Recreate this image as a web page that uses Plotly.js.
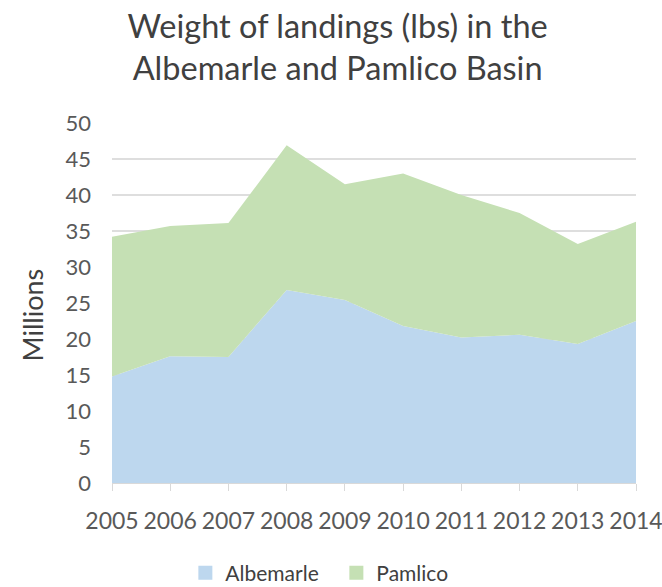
<!DOCTYPE html>
<html>
<head>
<meta charset="utf-8">
<script src="https://cdn.plot.ly/plotly-3.0.1.min.js"></script>
<style>html,body{margin:0;padding:0;background:#fff;}#chart{width:662px;height:587px;}</style>
</head>
<body>
<div id="chart"></div>
<script>
const years = ["2005","2006","2007","2008","2009","2010","2011","2012","2013","2014"];
const albemarle = [14.8, 17.6, 17.5, 26.8, 25.4, 21.8, 20.2, 20.6, 19.3, 22.5];
const pamlico = [19.4, 18.1, 18.6, 20.1, 16.1, 21.2, 19.8, 16.9, 13.9, 13.8];
const seriesNames = ["Albemarle", "Pamlico"];
const yTicks = [0,5,10,15,20,25,30,35,40,45,50];

const colA = "#BDD7EE", colP = "#C5E0B4";
const font = "Lato, 'Open Sans', sans-serif";

const traces = [
  {x: years, y: albemarle, name: seriesNames[0], type: "scatter", mode: "none",
   stackgroup: "one", fillcolor: colA, showlegend: false, hoverinfo: "x+y"},
  {x: years, y: pamlico, name: seriesNames[1], type: "scatter", mode: "none",
   stackgroup: "one", fillcolor: colP, showlegend: false, hoverinfo: "x+y"},
  {x: [years[0]], y: [null], name: seriesNames[0], type: "scatter", mode: "markers",
   marker: {symbol: "square", size: 14, color: colA}, showlegend: true},
  {x: [years[0]], y: [null], name: seriesNames[1], type: "scatter", mode: "markers",
   marker: {symbol: "square", size: 14, color: colP}, showlegend: true}
];

const layout = {
  width: 662, height: 587,
  margin: {l: 112, r: 26, t: 123, b: 104, pad: 0, autoexpand: false},
  paper_bgcolor: "#fff", plot_bgcolor: "#fff",
  font: {family: font, color: "#595959", size: 22},
  title: {text: "Weight of landings (lbs) in the<br>Albemarle and Pamlico Basin",
          font: {family: font, size: 32.5, color: "#404040"},
          x: 0.51, xanchor: "center", xref: "container", y: 0.936, yanchor: "top", yref: "container"},
  xaxis: {type: "category", range: [0, 9], showgrid: false, zeroline: false,
          showline: true, linecolor: "#d9d9d9", linewidth: 1,
          ticks: "outside", ticklen: 7, tickcolor: "#d9d9d9", tickwidth: 1,
          tickfont: {size: 23, color: "#595959"}, ticklabelstandoff: 10, fixedrange: true},
  yaxis: {range: [0, 50], tickvals: yTicks, showgrid: true, gridcolor: "#dedede", gridwidth: 2,
          zeroline: false, showline: false, ticks: "",
          tickfont: {size: 22, color: "#595959"}, ticklabelstandoff: 20, fixedrange: true},
  annotations: [{text: "Millions", xref: "paper", yref: "paper", x: -0.151, y: 0.468,
                 xanchor: "center", yanchor: "middle", textangle: -90, showarrow: false,
                 font: {family: font, size: 27, color: "#404040"}}],
  legend: {orientation: "h", x: 0.14, xanchor: "left", y: -0.25, yanchor: "middle",
           font: {size: 21, color: "#404040"}, itemwidth: 30, entrywidth: 106, entrywidthmode: "pixels",
           traceorder: "normal"},
  showlegend: true
};

Plotly.newPlot("chart", traces, layout, {displayModeBar: false, staticPlot: true});
</script>
</body>
</html>
